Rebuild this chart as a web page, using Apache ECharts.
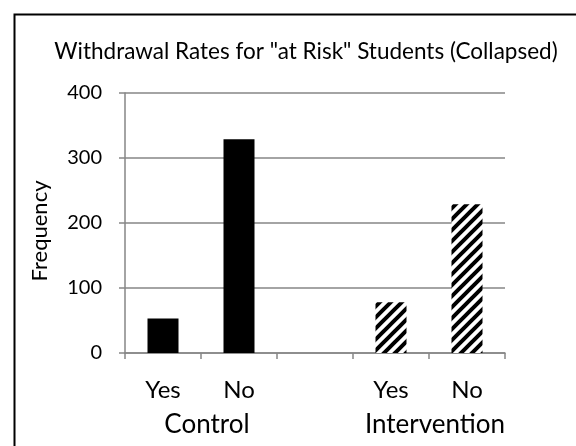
<!DOCTYPE html>
<html>
<head>
<meta charset="utf-8">
<script src="https://cdn.jsdelivr.net/npm/echarts@6/dist/echarts.min.js"></script>
<style>
  html, body { margin: 0; padding: 0; background: #fff; }
  #chart { width: 576px; height: 446px; }
</style>
</head>
<body>
<div id="chart"></div>
<script>
// Withdrawal outcome categories within each group
const subCategories = ['Yes', 'No'];
const groups = ['Control', 'Intervention'];
const controlValues = [53, 329];
const interventionValues = [78, 229];
const yTicks = [0, 100, 200, 300, 400];

const FONT = 'Lato, "Open Sans", sans-serif';

// Diagonal hatch tile for the intervention bars
function hatchTile() {
  const c = document.createElement('canvas');
  const s = 11;
  c.width = s; c.height = s;
  const g = c.getContext('2d');
  g.fillStyle = '#fff';
  g.fillRect(0, 0, s, s);
  g.strokeStyle = '#000';
  g.lineWidth = 4;
  g.beginPath();
  g.moveTo(-2, s + 2); g.lineTo(s + 2, -2);
  g.moveTo(-s - 2, s + 2); g.lineTo(2, -2);
  g.moveTo(s - 2, s + 2); g.lineTo(2 * s + 2, -2);
  g.stroke();
  return c;
}

// Category axis: Control Yes/No, an empty spacer slot, Intervention Yes/No
const xCats = [...subCategories, '', ...subCategories];
const barData = [
  ...controlValues.map(v => ({ value: v, itemStyle: { color: '#000' } })),
  { value: '-' },
  ...interventionValues.map(v => ({ value: v, itemStyle: { color: { image: hatchTile(), repeat: 'repeat' } } }))
];
// Group labels sit on the boundary between each group's two bars
const groupPos = { 1: groups[0], 4: groups[1] };

const chart = echarts.init(document.getElementById('chart'), null, { renderer: 'canvas' });
chart.setOption({
  backgroundColor: '#fff',
  animation: false,
  title: {
    text: 'Withdrawal Rates for "at Risk" Students (Collapsed)',
    left: 301, top: 35, textAlign: 'center',
    textStyle: { fontFamily: FONT, fontSize: 22.5, fontWeight: 'normal', color: '#000' }
  },
  graphic: [{
    type: 'rect', left: 12, top: 12, silent: true,
    shape: { width: 620, height: 500 },
    style: { fill: 'none', stroke: '#000', lineWidth: 2 }
  }],
  grid: { left: 125, right: 71, top: 93, bottom: 93 },
  xAxis: [{
    type: 'category',
    data: xCats,
    boundaryGap: true,
    axisLine: { lineStyle: { color: '#868686', width: 1.5 } },
    axisTick: { show: true, interval: 0, length: 6, lineStyle: { color: '#868686', width: 1.5 } },
    axisLabel: { interval: 0, margin: 25, fontFamily: FONT, fontSize: 24, color: '#000' }
  }, {
    type: 'value', position: 'bottom', min: 0, max: 5, interval: 1,
    axisLine: { show: false }, axisTick: { show: false }, splitLine: { show: false },
    axisLabel: {
      margin: 59, fontFamily: FONT, fontSize: 26, color: '#000',
      padding: [0, 0, 0, 12],
      showMinLabel: true, showMaxLabel: true,
      formatter: v => groupPos[v] || ''
    }
  }],
  yAxis: {
    type: 'value',
    min: yTicks[0], max: yTicks[yTicks.length - 1], interval: 100,
    name: 'Frequency', nameLocation: 'middle', nameGap: 74, nameRotate: 90,
    nameTextStyle: { fontFamily: FONT, fontSize: 22, color: '#000', padding: [0, 16, 0, 0] },
    axisLine: { show: true, lineStyle: { color: '#868686', width: 1.5 } },
    axisTick: { show: true, length: 6, lineStyle: { color: '#868686', width: 1.5 } },
    axisLabel: { margin: 23, fontFamily: FONT, fontSize: 20, color: '#000' },
    splitLine: { lineStyle: { color: '#868686', width: 1.5 } }
  },
  series: [{
    type: 'bar',
    xAxisIndex: 0,
    data: barData,
    barWidth: 31
  }]
});
</script>
</body>
</html>
